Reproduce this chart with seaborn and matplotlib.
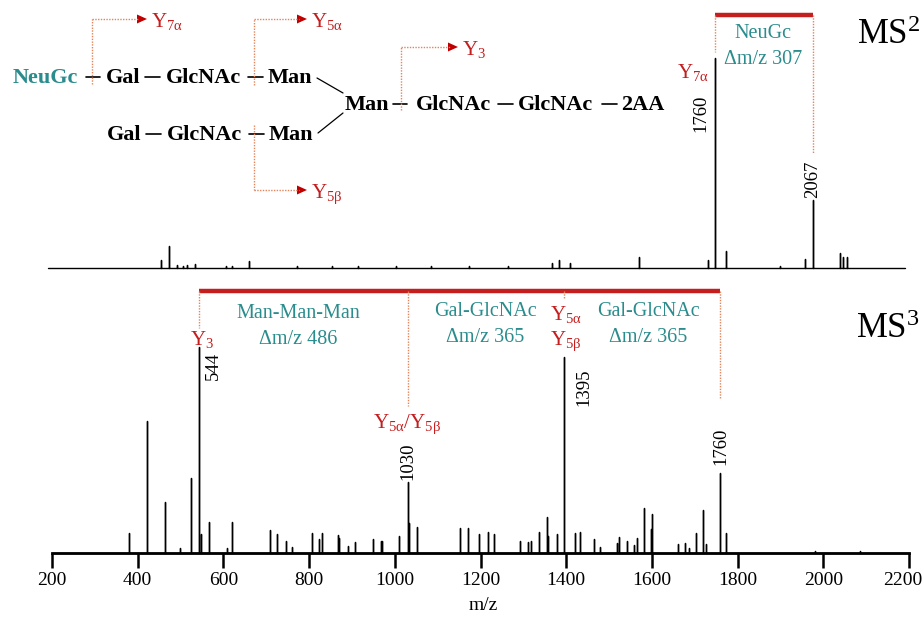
import numpy as np
import pandas as pd
import matplotlib
matplotlib.use("Agg")
import matplotlib.pyplot as plt
import seaborn as sns
from matplotlib.transforms import Affine2D, blended_transform_factory, ScaledTranslation
from matplotlib.lines import Line2D
from matplotlib.patches import Polygon

# ---------------- data ----------------
# MS2 spectrum (drawn on its own compressed m/z scale, as in the original)
ms2_mz = [25, 50, 75, 93, 106, 131, 228, 247, 300, 450, 560, 640, 760, 870, 990,
          1110, 1249, 1271, 1306, 1522, 1738, 1760, 1794, 1964, 2042, 2067,
          2152, 2161, 2173]
ms2_int = [3.8, 10.5, 1.4, 1.0, 1.4, 1.9, 1.0, 1.0, 3.3, 0.8, 0.8, 0.8, 0.8, 0.8, 0.8,
           0.8, 2.4, 3.8, 2.4, 5.2, 3.8, 100, 8.1, 1.0, 4.3, 32.4,
           7.1, 5.2, 5.2]
ms2_xlim = (-330, 2355)

# MS3 spectrum
ms3_mz = [380, 422, 464, 499, 524, 544, 547, 567, 608, 620, 709, 725, 746, 761, 806,
          823, 830, 867, 870, 890, 908, 950, 968, 971, 1010, 1030, 1032, 1051,
          1152, 1171, 1196, 1217, 1231, 1292, 1311, 1318, 1337, 1355, 1358, 1378,
          1395, 1420, 1432, 1465, 1479, 1518, 1523, 1542, 1558, 1565, 1582, 1598,
          1600, 1661, 1677, 1686, 1703, 1719, 1726, 1760, 1772, 1980, 2085]
ms3_int = [9.7, 64, 24.8, 2.4, 36.4, 100, 9.2, 15, 2.4, 15, 11.2, 9.2, 5.8, 2.9, 9.7,
           6.8, 9.7, 8.7, 7.3, 3.4, 5.3, 6.8, 5.8, 5.8, 8.3, 34.5, 14.6, 12.6,
           12.1, 12.1, 9.2, 10.2, 9.2, 5.8, 5.3, 5.8, 10.2, 17.5, 8.3, 9.2,
           95.1, 9.7, 10.2, 6.8, 2.9, 4.9, 7.8, 5.8, 3.9, 7.3, 21.8, 11.7,
           18.9, 4.4, 4.9, 2.4, 9.7, 20.9, 4.4, 38.8, 9.7, 0.8, 1.2]
ms3_xlim = (200, 2200)
x_ticks = [200, 400, 600, 800, 1000, 1200, 1400, 1600, 1800, 2000, 2200]

# labelled peaks
ms2_labels = ["1760", "2067"]
ms3_labels = ["544", "1030", "1395", "1760"]

# ---------------- style ----------------
sns.set_theme(style="white")
plt.rcParams["font.family"] = ["Liberation Serif", "DejaVu Serif"]
plt.rcParams["mathtext.fontset"] = "custom"
plt.rcParams["mathtext.rm"] = "Liberation Serif"
plt.rcParams["mathtext.it"] = "Liberation Serif:italic"
plt.rcParams["mathtext.bf"] = "Liberation Serif:bold"
plt.rcParams["text.color"] = "black"
plt.rcParams["axes.labelcolor"] = "black"
plt.rcParams["xtick.color"] = "black"

RED = "#c41e1e"
TEAL = "#2a8c8c"
DOT = "#e2845c"
W, H = 924, 618

fig = plt.figure(figsize=(W / 100, H / 100), dpi=100)
fig.patch.set_facecolor("white")
PX = Affine2D().scale(1 / W, -1 / H).translate(0, 1) + fig.transFigure


def fbox(x0, y_top, x1, y_bot):
    return [x0 / W, 1 - y_bot / H, (x1 - x0) / W, (y_bot - y_top) / H]


def stick_trace(mz, inten, lo, hi):
    xs, ys = [lo], [0.0]
    for m, h in sorted(zip(mz, inten)):
        xs += [m, m, m]
        ys += [0.0, h, 0.0]
    xs.append(hi)
    ys.append(0.0)
    return pd.DataFrame({"mz": xs, "intensity": ys})


# ---------------- MS2 panel ----------------
ax2 = fig.add_axes(fbox(48, 40, 905, 268))
sns.lineplot(data=stick_trace(ms2_mz, ms2_int, *ms2_xlim), x="mz", y="intensity",
             sort=False, estimator=None, color="black", lw=1.0, ax=ax2)
ax2.set_xlim(*ms2_xlim)
ax2.set_ylim(0, 228 / 2.10)
ax2.set_axis_off()
for ln in ax2.lines:
    ln.set_clip_on(False)

# ---------------- MS3 panel ----------------
ax3 = fig.add_axes(fbox(52, 283, 909, 553))
sns.lineplot(data=stick_trace(ms3_mz, ms3_int, *ms3_xlim), x="mz", y="intensity",
             sort=False, estimator=None, color="black", lw=1.0, ax=ax3)
ax3.set_xlim(*ms3_xlim)
ax3.set_ylim(0, 270 / 2.06)
sns.despine(ax=ax3, left=True)
ax3.spines["bottom"].set_linewidth(2.0)
ax3.spines["bottom"].set_color("black")
ax3.set_yticks([])
ax3.set_xticks(x_ticks)
ax3.set_xticklabels([str(t) for t in x_ticks])
ax3.tick_params(axis="x", bottom=True, direction="out", length=11, width=1.8,
                color="black", labelsize=14, pad=3, labelcolor="black")
# keep the last tick label inside the canvas
last = ax3.get_xticklabels()[-1]
last.set_transform(last.get_transform() + ScaledTranslation(-6 / 100, 0, fig.dpi_scale_trans))
ax3.set_xlabel("")
ax3.set_ylabel("")
for ln in ax3.lines:
    ln.set_clip_on(False)
fig.text(483, 606, "m/z", transform=PX, ha="center", va="center", fontsize=14,
         color="black")


# ---------------- helpers for annotations ----------------
def dotted(x0, y0, x1, y1, transform=PX):
    fig.add_artist(Line2D([x0, x1], [y0, y1], transform=transform, color=DOT,
                          lw=1.0, linestyle=(0, (1, 1))))


def bar(x0, x1, y, transform):
    fig.add_artist(Line2D([x0, x1], [y, y], transform=transform, color=RED,
                          lw=3.2, solid_capstyle="butt"))


def arrow_head(tx, ty):
    fig.add_artist(Polygon([[tx, ty], [tx - 10, ty - 4.5], [tx - 10, ty + 4.5]],
                           closed=True, transform=PX, color="#c00000", lw=0))


def cleave(x, y_start, y_end, x_tip, label):
    dotted(x, y_start, x, y_end)
    dotted(x, y_end, x_tip - 8, y_end)
    arrow_head(x_tip, y_end)
    fig.text(x_tip + 4, y_end + 8, label, transform=PX, ha="left",
             va="baseline", fontsize=15, color=RED)


def ytxt(x, y, s, ha="left", size=15):
    fig.text(x, y, s, transform=PX, ha=ha, va="baseline", fontsize=size, color=RED)


def teal(x, y, s):
    fig.text(x, y, s, transform=PX, ha="center", va="center", fontsize=14.5,
             color=TEAL)


def dash(x0, x1, y):
    fig.add_artist(Line2D([x0, x1], [y, y], transform=PX, color="black", lw=1.2))


def word(x, y, s, color="black"):
    fig.text(x, y, s, transform=PX, ha="left", va="baseline", fontsize=16,
             fontweight="bold", color=color)


# ---------------- glycan structure ----------------
word(13, 83, "NeuGc", TEAL)
dash(86, 100, 77)
word(106, 83, "Gal")
dash(145, 160, 77)
word(166, 83, "GlcNAc")
dash(248, 263, 77)
word(268, 83, "Man")

word(107, 140, "Gal")
dash(146, 161, 134)
word(167, 140, "GlcNAc")
dash(249, 264, 134)
word(269, 140, "Man")

fig.add_artist(Line2D([317, 343], [78, 93], transform=PX, color="black", lw=0.9))
fig.add_artist(Line2D([318, 343], [133, 113], transform=PX, color="black", lw=0.9))

word(345, 110, "Man")
dash(393, 407, 104)
word(416, 110, "GlcNAc")
dash(498, 513, 104)
word(518, 110, "GlcNAc")
dash(602, 617, 104)
word(621, 110, "2AA")

cleave(92, 84, 19, 147, r"Y$_{\mathrm{7\alpha}}$")
cleave(254, 85, 19, 307, r"Y$_{\mathrm{5\alpha}}$")
cleave(401, 110, 47, 458, r"Y$_{\mathrm{3}}$")
cleave(254, 125, 190, 307, r"Y$_{\mathrm{5\beta}}$")

# ---------------- MS2 annotations ----------------
bt2 = blended_transform_factory(ax2.transData, PX)
bar(1760, 2067, 15, bt2)
dotted(1760, 15, 1760, 52, bt2)
dotted(2067, 15, 2067, 153, bt2)
teal(763, 33, "NeuGc")
teal(763, 60, "Δm/z 307")
ytxt(709, 78, r"Y$_{\mathrm{7\alpha}}$", ha="right")
ax2.annotate(ms2_labels[0], xy=(1760, 100), xytext=(-14, -55), textcoords="offset pixels",
             rotation=90, ha="center", va="center", fontsize=13.5, color="black")
ax2.annotate(ms2_labels[1], xy=(2067, 32.4), xytext=(0, 21), textcoords="offset pixels",
             rotation=90, ha="center", va="center", fontsize=13.5, color="black")
fig.text(920, 44, r"MS$^{2}$", transform=PX, ha="right", va="baseline", fontsize=25,
         color="black")

# ---------------- MS3 annotations ----------------
bt3 = blended_transform_factory(ax3.transData, PX)
bar(544, 1760, 291, bt3)
dotted(544, 291, 544, 328, bt3)
dotted(1030, 291, 1030, 406, bt3)
dotted(1395, 291, 1395, 298, bt3)
dotted(1760, 291, 1760, 398, bt3)
teal(298, 313, "Man-Man-Man")
teal(298, 339, "Δm/z 486")
teal(485, 312, "Gal-GlcNAc")
teal(485, 338, "Δm/z 365")
teal(648, 312, "Gal-GlcNAc")
teal(648, 338, "Δm/z 365")
ytxt(190, 345, r"Y$_{\mathrm{3}}$")
ytxt(373, 428, r"Y$_{\mathrm{5\alpha}}$/Y$_{\mathrm{5\beta}}$")
ytxt(550, 320, r"Y$_{\mathrm{5\alpha}}$")
ytxt(550, 345, r"Y$_{\mathrm{5\beta}}$")

ax3.annotate(ms3_labels[0], xy=(544, 100), xytext=(14, -19), textcoords="offset pixels",
             rotation=90, ha="center", va="center", fontsize=13.5, color="black")
ax3.annotate(ms3_labels[1], xy=(1030, 34.5), xytext=(0, 21), textcoords="offset pixels",
             rotation=90, ha="center", va="center", fontsize=13.5, color="black")
ax3.annotate(ms3_labels[2], xy=(1395, 95.1), xytext=(20, -30), textcoords="offset pixels",
             rotation=90, ha="center", va="center", fontsize=13.5, color="black")
ax3.annotate(ms3_labels[3], xy=(1760, 38.8), xytext=(0, 27), textcoords="offset pixels",
             rotation=90, ha="center", va="center", fontsize=13.5, color="black")
fig.text(920, 338, r"MS$^{3}$", transform=PX, ha="right", va="baseline", fontsize=25,
         color="black")

fig.savefig("out.png", dpi=100, facecolor="white")
